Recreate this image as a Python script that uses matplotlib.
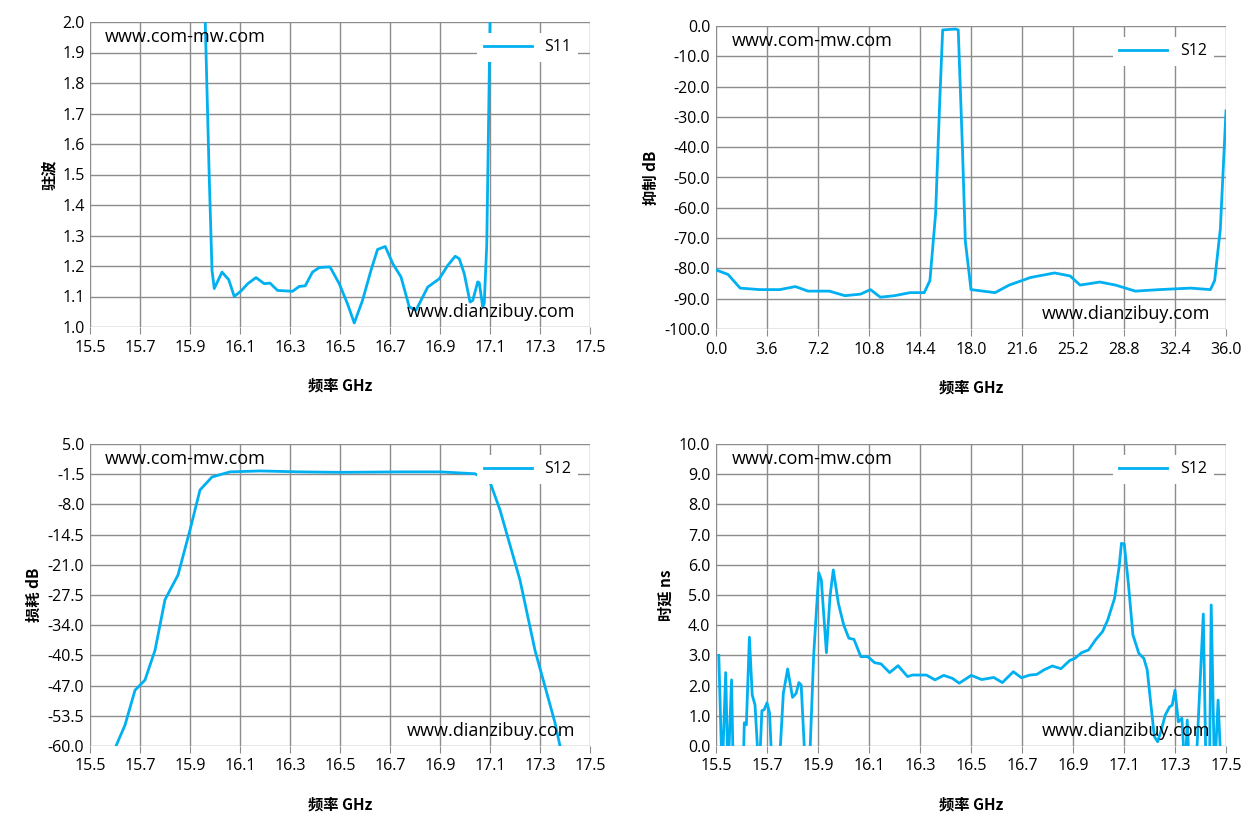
import numpy as np
import matplotlib.pyplot as plt

# ─── STYLE ──────────────────────────────────────────────────────────────────────
plt.rcParams['font.family'] = ['Open Sans', 'Noto Sans CJK SC', 'DejaVu Sans']
plt.rcParams['font.size'] = 11
LINE_COLOR = "#00b0f0"
GRID_COLOR = "#8c8c8c"
# ────────────────────────────────────────────────────────────────────────────────

# S11 VSWR (GHz, ratio)
s11_f = [15.95, 15.961, 15.977, 15.988, 15.997, 16.028, 16.055, 16.077, 16.104, 16.131, 16.164,
         16.197, 16.22, 16.25, 16.31, 16.337, 16.361, 16.39, 16.417, 16.46, 16.497, 16.53,
         16.557, 16.59, 16.624, 16.65, 16.681, 16.711, 16.744, 16.777, 16.804, 16.851, 16.897,
         16.931, 16.961, 16.977, 16.997, 17.02, 17.031, 17.051, 17.057, 17.071, 17.077, 17.087,
         17.095, 17.1, 17.11]
s11_v = [3.0, 2.0, 1.49, 1.186, 1.126, 1.18, 1.155, 1.10, 1.118, 1.142, 1.162,
         1.142, 1.144, 1.12, 1.117, 1.133, 1.135, 1.18, 1.195, 1.197, 1.142, 1.076,
         1.013, 1.087, 1.186, 1.254, 1.264, 1.208, 1.164, 1.066, 1.055, 1.131, 1.158,
         1.202, 1.232, 1.224, 1.175, 1.082, 1.087, 1.148, 1.145, 1.066, 1.077, 1.27,
         1.71, 2.0, 3.0]

# wideband rejection (GHz, dB)
rej_f = [0, 0.85, 1.7, 3.1, 4.5, 5.6, 6.5, 8.0, 9.1, 10.2, 10.9, 11.6, 12.6, 13.7, 14.7, 15.1,
         15.5, 15.8, 16.0, 16.9, 17.1, 17.4, 17.6, 18.0, 19.7, 20.7, 22.2, 23.9, 25.0, 25.7,
         27.1, 28.2, 29.6, 31.3, 33.5, 34.9, 35.2, 35.6, 36.0]
rej_v = [-80.5, -82, -86.5, -87, -87, -86, -87.5, -87.5, -89, -88.5, -87, -89.5, -89, -88, -88,
         -84, -62, -24, -1.3, -1, -1.3, -41, -71, -87, -88, -85.5, -83, -81.5, -82.5, -85.5,
         -84.5, -85.5, -87.5, -87, -86.5, -87, -84, -67, -28]

# insertion loss (GHz, dB)
il_f = [15.58, 15.604, 15.64, 15.68, 15.72, 15.76, 15.8, 15.852, 15.9, 15.94, 15.988, 16.06,
        16.18, 16.34, 16.5, 16.74, 16.9, 17.04, 17.1, 17.14, 17.22, 17.28, 17.36, 17.40]
il_v = [-65, -60, -55.5, -48, -45.8, -39.4, -28.5, -23.2, -13.5, -4.9, -2.1, -1.0,
        -0.8, -1.0, -1.1, -1.0, -1.0, -1.4, -3.2, -9.2, -24.3, -39.4, -55, -65]

# group delay (GHz, ns)
gd_f = [15.511, 15.524, 15.538, 15.547, 15.561, 15.568, 15.606, 15.611, 15.619, 15.631, 15.642,
        15.653, 15.669, 15.68, 15.689, 15.70, 15.71, 15.721, 15.746, 15.764, 15.781, 15.80,
        15.814, 15.825, 15.834, 15.852, 15.865, 15.883, 15.903, 15.913, 15.933, 15.947, 15.96,
        15.98, 16.001, 16.021, 16.041, 16.068, 16.095, 16.122, 16.147, 16.181, 16.214, 16.251,
        16.271, 16.325, 16.359, 16.393, 16.427, 16.454, 16.501, 16.542, 16.589, 16.623, 16.666,
        16.698, 16.731, 16.758, 16.786, 16.819, 16.853, 16.887, 16.907, 16.934, 16.961, 16.988,
        17.016, 17.036, 17.063, 17.081, 17.09, 17.101, 17.117, 17.135, 17.158, 17.178, 17.191,
        17.205, 17.219, 17.232, 17.246, 17.262, 17.279, 17.289, 17.30, 17.313, 17.327, 17.34,
        17.348, 17.357, 17.381, 17.411, 17.422, 17.435, 17.442, 17.455, 17.469, 17.482]
gd_v = [3.0, -1, 2.43, -1, 2.19, -1, -1, 0.77, 0.7, 3.6, 1.69,
        1.36, -1, 1.17, 1.2, 1.43, 1.1, -1, -1, 1.74, 2.55, 1.61,
        1.74, 2.1, 2.02, -1, -1, 3.0, 5.74, 5.5, 3.09, 4.94, 5.83,
        4.72, 4.0, 3.57, 3.53, 2.96, 2.96, 2.76, 2.72, 2.43, 2.66, 2.3,
        2.35, 2.35, 2.19, 2.34, 2.24, 2.08, 2.34, 2.2, 2.27, 2.1, 2.46,
        2.26, 2.35, 2.37, 2.52, 2.65, 2.56, 2.83, 2.9, 3.09, 3.18, 3.51,
        3.79, 4.17, 4.89, 5.94, 6.71, 6.69, 5.39, 3.68, 3.07, 2.9, 2.52,
        1.41, 0.31, 0.14, 0.53, 1.03, 1.3, 1.35, 1.85, 0.8, 0.92, -1,
        0.86, -1, -1, 4.37, -1, -1, 4.67, -1, 1.52, -1]


def style_axis(ax, xticks, yticks, xfmt, yfmt, xlabel, ylabel, legend):
    ax.set_xlim(xticks[0], xticks[-1])
    ax.set_ylim(yticks[0], yticks[-1])
    ax.set_xticks(xticks); ax.set_xticklabels([xfmt.format(v) for v in xticks])
    ax.set_yticks(yticks); ax.set_yticklabels([yfmt.format(v) for v in yticks])
    ax.grid(True, color=GRID_COLOR, linewidth=1)
    for s in ax.spines.values():
        s.set_visible(False)
    ax.tick_params(axis="both", labelsize=11.5)
    ax.tick_params(axis="y", length=0, pad=4)
    ax.tick_params(axis="x", length=5, color=GRID_COLOR, pad=4)
    ax.set_xlabel(xlabel, fontweight="bold", family=['Noto Sans CJK SC', 'DejaVu Sans'], labelpad=16)
    ax.set_ylabel(ylabel, fontweight="bold", family=['Noto Sans CJK SC', 'DejaVu Sans'])
    ax.text(0.03, 0.95, "www.com-mw.com", transform=ax.transAxes, fontsize=13, va="center")
    ax.text(0.97, 0.05, "www.dianzibuy.com", transform=ax.transAxes, fontsize=13, va="center", ha="right")
    leg = ax.legend([legend], loc="upper right", frameon=True, fontsize=11.5,
                    handlelength=3.0, borderaxespad=0.3, bbox_to_anchor=(0.985, 0.98))
    leg.get_frame().set_edgecolor("none")
    leg.get_frame().set_alpha(1)


def plot_dashboard():
    fig, axes = plt.subplots(2, 2, figsize=(12.58, 8.31), dpi=100)
    freq_ticks = np.round(np.arange(15.5, 17.51, 0.2), 1)

    # VSWR
    ax = axes[0, 0]
    ax.set_position([90/1258, 1-327/831, 500/1258, 305/831])
    ax.plot(s11_f, s11_v, color=LINE_COLOR, lw=2)
    style_axis(ax, freq_ticks, np.round(np.arange(1.0, 2.01, 0.1), 1), "{:.1f}", "{:.1f}",
               "频率 GHz", "驻波", "S11")

    # Rejection
    ax = axes[0, 1]
    ax.set_position([716/1258, 1-329/831, 510/1258, 303/831])
    ax.plot(rej_f, rej_v, color=LINE_COLOR, lw=2)
    style_axis(ax, np.round(np.arange(0, 36.01, 3.6), 1), np.arange(-100, 0.1, 10), "{:.1f}", "{:.1f}",
               "频率 GHz", "抑制 dB", "S12")

    # Insertion loss
    ax = axes[1, 0]
    ax.set_position([90/1258, 1-746/831, 500/1258, 302/831])
    ax.plot(il_f, il_v, color=LINE_COLOR, lw=2)
    style_axis(ax, freq_ticks, np.round(np.arange(-60, 5.01, 6.5), 1), "{:.1f}", "{:.1f}",
               "频率 GHz", "损耗 dB", "S12")

    # Group delay
    ax = axes[1, 1]
    ax.set_position([716/1258, 1-746/831, 510/1258, 302/831])
    ax.plot(gd_f, gd_v, color=LINE_COLOR, lw=2)
    style_axis(ax, freq_ticks, np.arange(0, 10.01, 1.0), "{:.1f}", "{:.1f}",
               "频率 GHz", "时延 ns", "S12")

    fig.savefig("out.png", dpi=100)


if __name__ == "__main__":
    plot_dashboard()
